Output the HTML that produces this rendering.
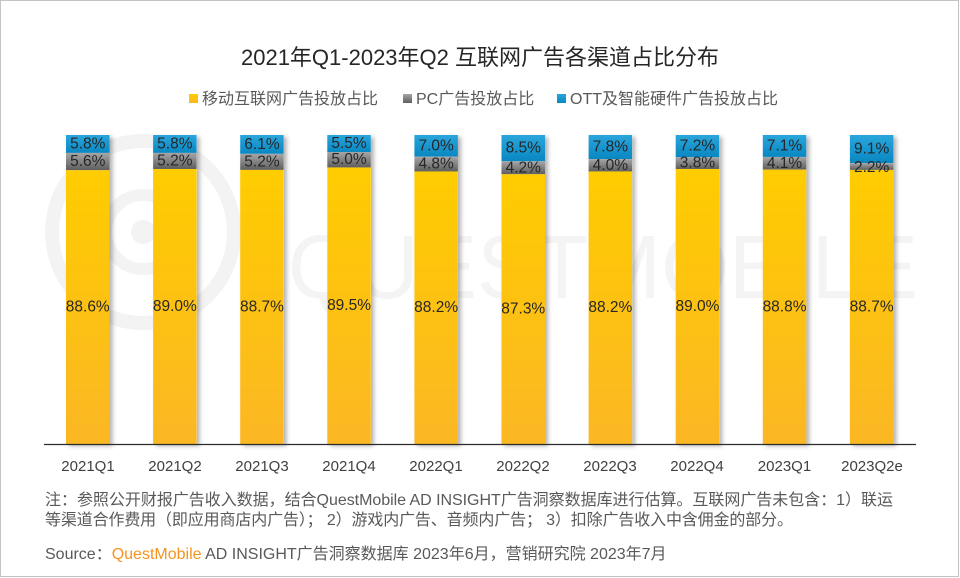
<!DOCTYPE html>
<html><head><meta charset="utf-8">
<style>
html,body{margin:0;padding:0;background:#fff;}
body{width:960px;height:578px;overflow:hidden;}
svg{display:block;font-family:"Liberation Sans","Noto Sans CJK SC",sans-serif;}
</style></head>
<body>
<svg width="960" height="578" viewBox="0 0 960 578" xmlns="http://www.w3.org/2000/svg">
<defs>
<linearGradient id="gy" x1="0" y1="0" x2="0" y2="1"><stop offset="0" stop-color="#FFCC00"/><stop offset="1" stop-color="#FBB724"/></linearGradient>
<linearGradient id="gb" x1="0" y1="0" x2="0" y2="1"><stop offset="0" stop-color="#2AA6DC"/><stop offset="1" stop-color="#0987C2"/></linearGradient>
<linearGradient id="gg" x1="0" y1="0" x2="0" y2="1"><stop offset="0" stop-color="#A6A6A6"/><stop offset="1" stop-color="#5E5E5E"/></linearGradient>
<filter id="sh" x="-20%" y="-5%" width="150%" height="110%"><feDropShadow dx="3" dy="2" stdDeviation="2" flood-color="#000" flood-opacity="0.3"/></filter>
</defs>
<rect x="0.5" y="0.5" width="958" height="576" fill="#fff" stroke="#c4c4c4" stroke-width="1"/>

<!-- watermark -->
<g fill="none" stroke="#f3f3f3">
<circle cx="143" cy="232" r="91" stroke-width="14"/>
<circle cx="143" cy="232" r="37" stroke-width="12"/>
</g>
<circle cx="143" cy="232" r="12" fill="#f3f3f3"/>
<text x="288" y="298" font-size="90" fill="#f4f4f4" textLength="630" lengthAdjust="spacingAndGlyphs">QUESTMOBILE</text>

<!-- title -->
<text x="480" y="65" font-size="22" fill="#262626" text-anchor="middle">2021年Q1-2023年Q2 互联网广告各渠道占比分布</text>

<!-- legend -->
<rect x="189" y="94" width="9" height="9" fill="url(#gy)"/>
<text x="202" y="104" font-size="16" fill="#595959">移动互联网广告投放占比</text>
<rect x="403" y="94" width="9" height="9" fill="url(#gg)"/>
<text x="416" y="104" font-size="16" fill="#595959">PC广告投放占比</text>
<rect x="557" y="94" width="9" height="9" fill="url(#gb)"/>
<text x="570" y="104" font-size="16" fill="#595959">OTT及智能硬件广告投放占比</text>

<!-- bars -->
<g filter="url(#sh)">
<rect x="66" y="135" width="43.5" height="309" fill="#fff"/>
<rect x="153.1" y="135" width="43.5" height="309" fill="#fff"/>
<rect x="240.2" y="135" width="43.5" height="309" fill="#fff"/>
<rect x="327.3" y="135" width="43.5" height="309" fill="#fff"/>
<rect x="414.4" y="135" width="43.5" height="309" fill="#fff"/>
<rect x="501.5" y="135" width="43.5" height="309" fill="#fff"/>
<rect x="588.6" y="135" width="43.5" height="309" fill="#fff"/>
<rect x="675.7" y="135" width="43.5" height="309" fill="#fff"/>
<rect x="762.8" y="135" width="43.5" height="309" fill="#fff"/>
<rect x="849.9" y="135" width="43.5" height="309" fill="#fff"/>
</g>

<g>
<!-- 1 -->
<rect x="66" y="135" width="43.5" height="17.92" fill="url(#gb)"/>
<rect x="66" y="152.92" width="43.5" height="17.3" fill="url(#gg)"/>
<rect x="66" y="170.22" width="43.5" height="273.78" fill="url(#gy)"/>
<!-- 2 -->
<rect x="153.1" y="135" width="43.5" height="17.92" fill="url(#gb)"/>
<rect x="153.1" y="152.92" width="43.5" height="16.07" fill="url(#gg)"/>
<rect x="153.1" y="168.99" width="43.5" height="275.01" fill="url(#gy)"/>
<!-- 3 -->
<rect x="240.2" y="135" width="43.5" height="18.85" fill="url(#gb)"/>
<rect x="240.2" y="153.85" width="43.5" height="16.07" fill="url(#gg)"/>
<rect x="240.2" y="169.92" width="43.5" height="274.08" fill="url(#gy)"/>
<!-- 4 -->
<rect x="327.3" y="135" width="43.5" height="17" fill="url(#gb)"/>
<rect x="327.3" y="152" width="43.5" height="15.45" fill="url(#gg)"/>
<rect x="327.3" y="167.45" width="43.5" height="276.55" fill="url(#gy)"/>
<!-- 5 -->
<rect x="414.4" y="135" width="43.5" height="21.63" fill="url(#gb)"/>
<rect x="414.4" y="156.63" width="43.5" height="14.83" fill="url(#gg)"/>
<rect x="414.4" y="171.46" width="43.5" height="272.54" fill="url(#gy)"/>
<!-- 6 -->
<rect x="501.5" y="135" width="43.5" height="26.27" fill="url(#gb)"/>
<rect x="501.5" y="161.27" width="43.5" height="12.98" fill="url(#gg)"/>
<rect x="501.5" y="174.25" width="43.5" height="269.75" fill="url(#gy)"/>
<!-- 7 -->
<rect x="588.6" y="135" width="43.5" height="24.1" fill="url(#gb)"/>
<rect x="588.6" y="159.1" width="43.5" height="12.36" fill="url(#gg)"/>
<rect x="588.6" y="171.46" width="43.5" height="272.54" fill="url(#gy)"/>
<!-- 8 -->
<rect x="675.7" y="135" width="43.5" height="22.25" fill="url(#gb)"/>
<rect x="675.7" y="157.25" width="43.5" height="11.74" fill="url(#gg)"/>
<rect x="675.7" y="168.99" width="43.5" height="275.01" fill="url(#gy)"/>
<!-- 9 -->
<rect x="762.8" y="135" width="43.5" height="21.94" fill="url(#gb)"/>
<rect x="762.8" y="156.94" width="43.5" height="12.67" fill="url(#gg)"/>
<rect x="762.8" y="169.61" width="43.5" height="274.39" fill="url(#gy)"/>
<!-- 10 -->
<rect x="849.9" y="135" width="43.5" height="28.12" fill="url(#gb)"/>
<rect x="849.9" y="163.12" width="43.5" height="6.8" fill="url(#gg)"/>
<rect x="849.9" y="169.92" width="43.5" height="274.08" fill="url(#gy)"/>
</g>

<!-- value labels -->
<g font-size="15.5" fill="#262626" text-anchor="middle" dominant-baseline="central">
<text x="87.75" y="144">5.8%</text><text x="87.75" y="161.6">5.6%</text><text x="87.75" y="307.1">88.6%</text>
<text x="174.85" y="144">5.8%</text><text x="174.85" y="161">5.2%</text><text x="174.85" y="306.5">89.0%</text>
<text x="261.95" y="144.4">6.1%</text><text x="261.95" y="161.9">5.2%</text><text x="261.95" y="307">88.7%</text>
<text x="349.05" y="143.5">5.5%</text><text x="349.05" y="159.7">5.0%</text><text x="349.05" y="305.7">89.5%</text>
<text x="436.15" y="145.8">7.0%</text><text x="436.15" y="164">4.8%</text><text x="436.15" y="307.7">88.2%</text>
<text x="523.25" y="148.1">8.5%</text><text x="523.25" y="167.8">4.2%</text><text x="523.25" y="309.1">87.3%</text>
<text x="610.35" y="147.1">7.8%</text><text x="610.35" y="165.3">4.0%</text><text x="610.35" y="307.7">88.2%</text>
<text x="697.45" y="146.1">7.2%</text><text x="697.45" y="163.1">3.8%</text><text x="697.45" y="306.5">89.0%</text>
<text x="784.55" y="146">7.1%</text><text x="784.55" y="163.3">4.1%</text><text x="784.55" y="306.8">88.8%</text>
<text x="871.65" y="149.1">9.1%</text><text x="871.65" y="167.5">2.2%</text><text x="871.65" y="307">88.7%</text>
</g>

<!-- axis -->
<line x1="44" y1="444.5" x2="916" y2="444.5" stroke="#2b2b2b" stroke-width="1.2"/>

<!-- x labels -->
<g font-size="15" fill="#404040" text-anchor="middle">
<text x="88" y="471">2021Q1</text>
<text x="175" y="471">2021Q2</text>
<text x="262" y="471">2021Q3</text>
<text x="349" y="471">2021Q4</text>
<text x="436" y="471">2022Q1</text>
<text x="523" y="471">2022Q2</text>
<text x="610" y="471">2022Q3</text>
<text x="697" y="471">2022Q4</text>
<text x="784.5" y="471">2023Q1</text>
<text x="872" y="471">2023Q2e</text>
</g>

<!-- notes -->
<g font-size="16" fill="#595959">
<text x="45" y="505" textLength="848" lengthAdjust="spacing">注：参照公开财报广告收入数据，结合QuestMobile AD INSIGHT广告洞察数据库进行估算。互联网广告未包含：1）联运</text>
<text x="45" y="525" textLength="748" lengthAdjust="spacing">等渠道合作费用（即应用商店内广告）； 2）游戏内广告、音频内广告； 3）扣除广告收入中含佣金的部分。</text>
<text x="45" y="559">Source：<tspan fill="#F7931E">QuestMobile</tspan> AD INSIGHT广告洞察数据库 2023年6月，营销研究院 2023年7月</text>
</g>
</svg>
</body></html>
